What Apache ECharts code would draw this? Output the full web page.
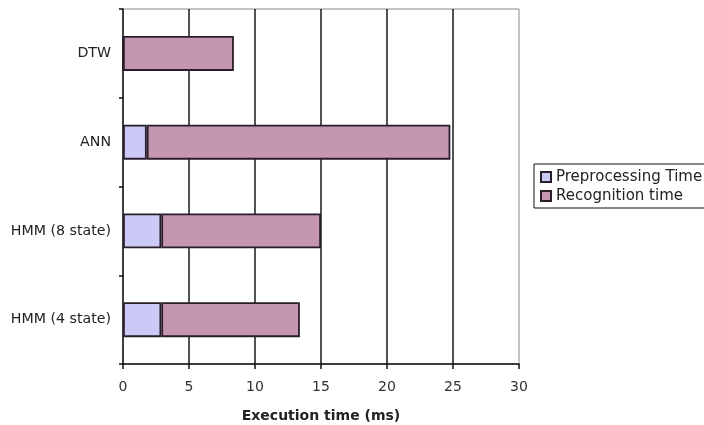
<!DOCTYPE html>
<html>
<head>
<meta charset="utf-8">
<script src="https://cdn.jsdelivr.net/npm/echarts@6/dist/echarts.min.js"></script>
<style>
html,body{margin:0;padding:0;background:#fff;}
#c{width:704px;height:425px;}
</style>
</head>
<body>
<div id="c"></div>
<script>
const categories = ['DTW', 'ANN', 'HMM (8 state)', 'HMM (4 state)'];
const preprocessingTime = [0, 1.8, 2.9, 2.9];
const recognitionTime = [8.4, 23.0, 12.1, 10.5];
const seriesNames = ['Preprocessing Time', 'Recognition time'];
const xTicks = { min: 0, max: 30, interval: 5 };
const axisTitle = 'Execution time (ms)';

const chart = echarts.init(document.getElementById('c'), null, { renderer: 'canvas' });
const FONT = '"DejaVu Sans", Verdana, sans-serif';
chart.setOption({
  animation: false,
  backgroundColor: '#fff',
  grid: {
    left: 123, right: 185, top: 9, bottom: 61,
    containLabel: false, outerBoundsMode: 'none',
    show: true, borderColor: '#8a8a8a', borderWidth: 1, backgroundColor: 'transparent'
  },
  legend: {
    orient: 'vertical',
    left: 534, top: 164,
    itemWidth: 10, itemHeight: 10, itemGap: 3,
    padding: [5, 6, 4, 6],
    borderColor: '#111', borderWidth: 1,
    icon: 'rect',
    textStyle: { fontFamily: FONT, fontSize: 15, color: '#222', lineHeight: 16 },
    data: seriesNames
  },
  xAxis: {
    type: 'value',
    min: xTicks.min, max: xTicks.max, interval: xTicks.interval,
    name: axisTitle, nameLocation: 'middle', nameGap: 45,
    nameTextStyle: { fontFamily: FONT, fontSize: 14, fontWeight: 'bold', color: '#222' },
    axisLine: { show: true, lineStyle: { color: '#111', width: 1.5 } },
    axisTick: { show: true, length: 5, lineStyle: { color: '#111', width: 1.5 } },
    axisLabel: { fontFamily: FONT, fontSize: 14, color: '#333', margin: 16 },
    splitLine: { show: true, showMinLine: false, showMaxLine: false, lineStyle: { color: '#1a1a1a', width: 1.5 } }
  },
  yAxis: {
    type: 'category',
    data: categories,
    inverse: true,
    axisLine: { show: true, lineStyle: { color: '#111', width: 1.5 } },
    axisTick: { show: true, length: 4, lineStyle: { color: '#111', width: 1.5 } },
    axisLabel: { fontFamily: FONT, fontSize: 14.2, color: '#222', margin: 12 },
    splitLine: { show: false }
  },
  series: [
    {
      name: seriesNames[0], type: 'bar', stack: 'total', barWidth: 35,
      data: preprocessingTime,
      itemStyle: { color: '#cbc9f6', borderColor: '#2a1e2a', borderWidth: 1.8 }
    },
    {
      name: seriesNames[1], type: 'bar', stack: 'total', barWidth: 35,
      data: recognitionTime,
      itemStyle: { color: '#c596b0', borderColor: '#2a1e2a', borderWidth: 1.8 }
    }
  ]
});
</script>
</body>
</html>
